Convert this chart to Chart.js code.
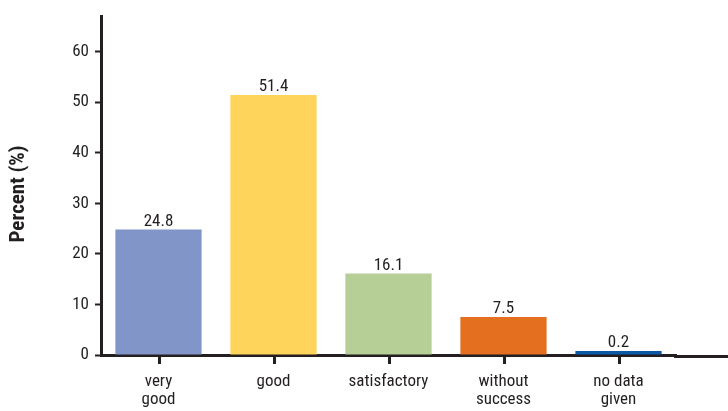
<!DOCTYPE html>
<html>
<head>
<meta charset="utf-8">
<script src="https://cdn.jsdelivr.net/npm/chart.js@4.4.0/dist/chart.umd.min.js"></script>
<style>
  html, body { margin: 0; padding: 0; background: #fff; }
  #wrap { width: 728px; height: 411px; position: relative; }
</style>
</head>
<body>
<div id="wrap"><canvas id="chart"></canvas></div>
<script>
// chart data
const categories = [['very', 'good'], 'good', 'satisfactory', ['without', 'success'], ['no data', 'given']];
const percents = [24.8, 51.4, 16.1, 7.5, 0.2];
const barColors = ['#8195c8', '#ffd45a', '#b5cf96', '#e36f1f', '#0c5aa6'];
const yTicks = [0, 10, 20, 30, 40, 50, 60];
const yTitle = 'Percent (%)';

const INK = '#231f20';
const FONT = '"Roboto Condensed", Lato, sans-serif';

// value labels above each bar
const valueLabels = {
    id: 'valueLabels',
    afterDatasetsDraw(chart) {
        const ctx = chart.ctx;
        const meta = chart.getDatasetMeta(0);
        ctx.save();
        ctx.font = '17px ' + FONT;
        ctx.fillStyle = INK;
        ctx.textAlign = 'center';
        ctx.textBaseline = 'alphabetic';
        meta.data.forEach((bar, i) => {
            ctx.fillText(percents[i].toFixed(1), bar.x, bar.y - 4);
        });
        ctx.restore();
    }
};

// x axis runs on to the right edge, tick marks under the bars, y title
const axisExtras = {
    id: 'axisExtras',
    afterDraw(chart) {
        const ctx = chart.ctx;
        const area = chart.chartArea;
        ctx.save();
        ctx.fillStyle = INK;
        ctx.fillRect(area.right - 2, area.bottom, chart.width - area.right + 2, 3);
        chart.getDatasetMeta(0).data.forEach(bar => {
            ctx.fillRect(Math.round(bar.x) - 1, area.bottom + 1, 3, 8);
        });

        ctx.translate(19, 194);
        ctx.rotate(-Math.PI / 2);
        ctx.font = 'bold 21px ' + FONT;
        ctx.textAlign = 'center';
        ctx.textBaseline = 'middle';
        ctx.fillText(yTitle, 0, 0);
        ctx.restore();
    }
};

new Chart(document.getElementById('chart'), {
    type: 'bar',
    data: {
        labels: categories,
        datasets: [{
            data: percents,
            backgroundColor: barColors,
            barPercentage: 0.75,
            categoryPercentage: 1,
            minBarLength: 4
        }]
    },
    options: {
        responsive: true,
        maintainAspectRatio: false,
        animation: false,
        layout: { padding: { top: 13, right: 52, left: 0, bottom: 0 } },
        plugins: {
            legend: { display: false },
            tooltip: { enabled: false }
        },
        scales: {
            x: {
                afterFit(scale) { scale.height = 56; },
                border: { display: true, color: INK, width: 3 },
                grid: { display: true, drawOnChartArea: false, drawTicks: true, tickLength: 7, tickColor: 'rgba(0,0,0,0)' },
                ticks: {
                    color: INK,
                    padding: 10,
                    maxRotation: 0,
                    font: { family: FONT, size: 17, lineHeight: 1.1 }
                }
            },
            y: {
                min: 0,
                max: 67,
                afterFit(scale) { scale.width = 101; },
                afterBuildTicks(scale) { scale.ticks = yTicks.map(v => ({ value: v })); },
                border: { display: true, color: INK, width: 3 },
                grid: { drawOnChartArea: false, drawTicks: true, tickLength: 6, tickWidth: 2, tickColor: INK },
                ticks: {
                    color: INK,
                    padding: 6,
                    font: { family: FONT, size: 17 }
                }
            }
        }
    },
    plugins: [valueLabels, axisExtras]
});
</script>
</body>
</html>
